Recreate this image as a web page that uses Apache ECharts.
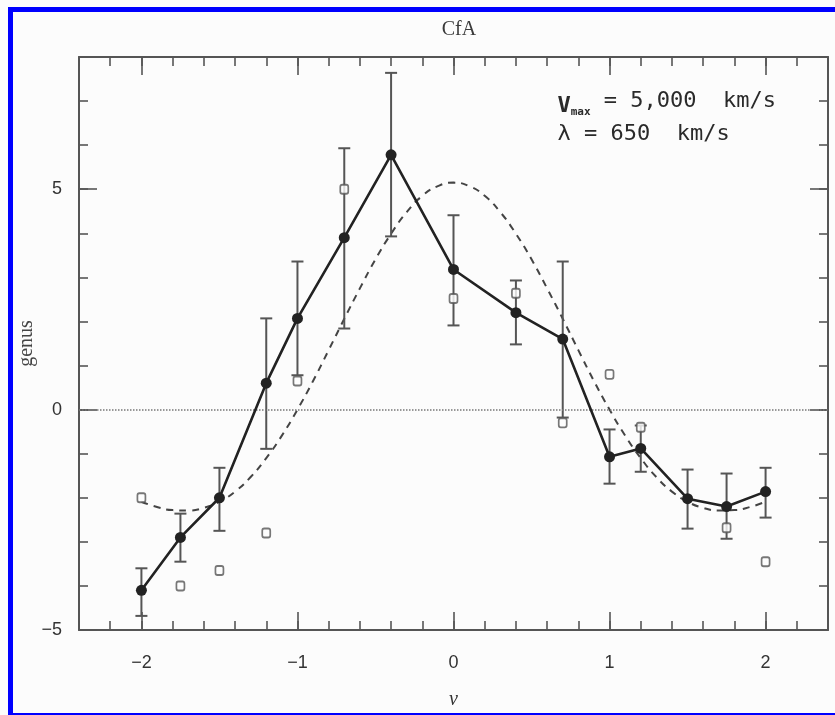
<!DOCTYPE html>
<html>
<head>
<meta charset="utf-8">
<script src="https://cdn.jsdelivr.net/npm/echarts@6/dist/echarts.min.js"></script>
<style>
    html, body { margin: 0; padding: 0; background: #fcfcfc; }
    #chart { width: 835px; height: 715px; }
</style>
</head>
<body>
<div id="chart"></div>
<script>
'use strict';

// measured genus points (filled) with their error bar ends
const nu = [-2, -1.75, -1.5, -1.2, -1, -0.7, -0.4, 0, 0.4, 0.7, 1, 1.2, 1.5, 1.75, 2];
const genus = [-4.1, -2.9, -2.0, 0.6, 2.07, 3.9, 5.78, 3.18, 2.2, 1.6, -1.07, -0.88, -2.02, -2.2, -1.86];
const genusHi = [-3.6, -2.36, -1.32, 2.07, 3.36, 5.93, 7.64, 4.41, 2.93, 3.36, -0.45, -0.36, -1.36, -1.45, -1.32];
const genusLo = [-4.68, -3.45, -2.75, -0.89, 0.78, 1.84, 3.93, 1.91, 1.48, -0.18, -1.68, -1.41, -2.7, -2.93, -2.45];

// open squares
const sqNu = [-2, -1.75, -1.5, -1.2, -1, -0.7, 0, 0.4, 0.7, 1, 1.2, 1.75, 2];
const sqGenus = [-2.0, -4.0, -3.65, -2.8, 0.65, 5.0, 2.52, 2.64, -0.3, 0.8, -0.4, -2.68, -3.45];

// dashed curve
const curveNu = [-2, -1.9, -1.8, -1.7, -1.6, -1.5, -1.4, -1.3, -1.2, -1.1, -1, -0.9, -0.8, -0.7, -0.6, -0.5, -0.4, -0.3, -0.2, -0.1,
    0, 0.1, 0.2, 0.3, 0.4, 0.5, 0.6, 0.7, 0.8, 0.9, 1, 1.1, 1.2, 1.3, 1.4, 1.5, 1.6, 1.7, 1.8, 1.9, 2];
const curveGenus = [-2.09, -2.21, -2.28, -2.29, -2.23, -2.09, -1.86, -1.53, -1.1, -0.59, 0, 0.65, 1.35, 2.06, 2.75, 3.41, 3.99, 4.48, 4.85, 5.07,
    5.15, 5.07, 4.85, 4.48, 3.99, 3.41, 2.75, 2.06, 1.35, 0.65, 0, -0.59, -1.1, -1.53, -1.86, -2.09, -2.23, -2.29, -2.28, -2.21, -2.09];

const xMajor = [-2, -1, 0, 1, 2];
const yMajor = [-5, 0, 5];

const frameColor = '#555';
const inkColor = '#222';
const labelFont = 'Liberation Sans';
const serifFont = 'Liberation Serif';
const monoFont = 'DejaVu Sans Mono';

const fmt = (v) => String(Math.round(v * 10) / 10).replace('-', '\u2212');

const xBase = { type: 'value', min: -2.4, max: 2.4, splitLine: { show: false } };
const yBase = { type: 'value', min: -5, max: 8, splitLine: { show: false } };

const tickStyle = { color: frameColor, width: 1.6 };
const frameLine = { show: true, onZero: false, lineStyle: { color: frameColor, width: 2 } };
const noLine = { show: false, onZero: false };

const xAxes = [
    Object.assign({}, xBase, {
        position: 'bottom',
        interval: 0.2,
        axisLine: frameLine,
        axisTick: { inside: true, length: 9, lineStyle: tickStyle },
        axisLabel: {
            customValues: xMajor, formatter: fmt, margin: 24,
            fontFamily: labelFont, fontSize: 18, color: '#333'
        },
        name: '\u03bd', nameLocation: 'middle', nameGap: 60, nameMoveOverlap: false,
        nameTextStyle: { fontFamily: serifFont, fontStyle: 'italic', fontSize: 20, color: '#333' }
    }),
    Object.assign({}, xBase, {
        position: 'bottom',
        axisLine: noLine,
        axisTick: { inside: true, length: 18, customValues: xMajor, lineStyle: tickStyle },
        axisLabel: { show: false }
    }),
    Object.assign({}, xBase, {
        position: 'top',
        interval: 0.2,
        axisLine: frameLine,
        axisTick: { inside: true, length: 9, lineStyle: tickStyle },
        axisLabel: { show: false }
    }),
    Object.assign({}, xBase, {
        position: 'top',
        axisLine: noLine,
        axisTick: { inside: true, length: 18, customValues: xMajor, lineStyle: tickStyle },
        axisLabel: { show: false }
    })
];

const yAxes = [
    Object.assign({}, yBase, {
        position: 'left',
        interval: 1,
        axisLine: frameLine,
        axisTick: { inside: true, length: 9, lineStyle: tickStyle },
        axisLabel: {
            customValues: yMajor, formatter: fmt, margin: 17,
            fontFamily: labelFont, fontSize: 18, color: '#333'
        },
        name: 'genus', nameLocation: 'middle', nameGap: 42, nameMoveOverlap: false,
        nameTextStyle: { fontFamily: serifFont, fontSize: 20, color: '#444' }
    }),
    Object.assign({}, yBase, {
        position: 'left',
        axisLine: noLine,
        axisTick: { inside: true, length: 18, customValues: yMajor, lineStyle: tickStyle },
        axisLabel: { show: false }
    }),
    Object.assign({}, yBase, {
        position: 'right',
        interval: 1,
        axisLine: frameLine,
        axisTick: { inside: true, length: 9, lineStyle: tickStyle },
        axisLabel: { show: false }
    }),
    Object.assign({}, yBase, {
        position: 'right',
        axisLine: noLine,
        axisTick: { inside: true, length: 18, customValues: yMajor, lineStyle: tickStyle },
        axisLabel: { show: false }
    })
];

const errorData = nu.map((x, i) => [x, genusLo[i], genusHi[i]]);

const renderErrorBar = (params, api) => {
    const x = api.value(0);
    const lo = api.coord([x, api.value(1)]);
    const hi = api.coord([x, api.value(2)]);
    const hw = 6;
    const style = { stroke: '#555', lineWidth: 2 };
    return {
        type: 'group',
        children: [
            { type: 'line', shape: { x1: lo[0], y1: lo[1], x2: hi[0], y2: hi[1] }, style },
            { type: 'line', shape: { x1: lo[0] - hw, y1: lo[1], x2: lo[0] + hw, y2: lo[1] }, style },
            { type: 'line', shape: { x1: hi[0] - hw, y1: hi[1], x2: hi[0] + hw, y2: hi[1] }, style }
        ]
    };
};

const chart = echarts.init(document.getElementById('chart'), null, { renderer: 'canvas' });

chart.setOption({
    backgroundColor: '#fcfcfc',
    animation: false,
    title: {
        text: 'CfA', left: 454, top: 15, textAlign: 'center',
        textStyle: { fontFamily: serifFont, fontSize: 20, fontWeight: 'normal', color: '#3a3a3a' }
    },
    grid: { left: 79, right: 7, top: 57, bottom: 85 },
    xAxis: xAxes,
    yAxis: yAxes,
    series: [
        {
            type: 'line',
            data: curveNu.map((x, i) => [x, curveGenus[i]]),
            showSymbol: false,
            smooth: true,
            lineStyle: { color: '#444', width: 2, type: [7, 6] },
            markLine: {
                silent: true,
                symbol: 'none',
                label: { show: false },
                lineStyle: { color: '#777', width: 1.5, type: 'dotted' },
                data: [{ yAxis: 0 }]
            },
            z: 2
        },
        {
            type: 'custom',
            renderItem: renderErrorBar,
            data: errorData,
            encode: { x: 0, y: [1, 2] },
            z: 3
        },
        {
            type: 'scatter',
            data: sqNu.map((x, i) => [x, sqGenus[i]]),
            symbol: 'roundRect',
            symbolSize: [8, 9],
            itemStyle: { color: '#fcfcfc', borderColor: '#555', borderWidth: 1.8 },
            z: 4
        },
        {
            type: 'line',
            data: nu.map((x, i) => [x, genus[i]]),
            symbol: 'circle',
            symbolSize: 11,
            lineStyle: { color: inkColor, width: 2.6 },
            itemStyle: { color: inkColor },
            z: 5
        }
    ],
    graphic: [
        {
            type: 'text',
            right: 835 - 776,
            top: 90,
            style: {
                text: '{v|V}{s|max}{t| = 5,000  km/s}\n{t|\u03bb = 650  km/s}',
                align: 'right',
                fill: '#2a2a2a',
                rich: {
                    v: { fontFamily: monoFont, fontSize: 22, fontWeight: 'bold', lineHeight: 33, verticalAlign: 'bottom' },
                    s: { fontFamily: monoFont, fontSize: 11, fontWeight: 'bold', verticalAlign: 'bottom', lineHeight: 24 },
                    t: { fontFamily: monoFont, fontSize: 22, lineHeight: 33 }
                }
            }
        },
        {
            type: 'rect',
            left: 8, top: 7,
            shape: { width: 840, height: 706 },
            style: { fill: 'none', stroke: '#0000ff', lineWidth: 5 },
            silent: true
        }
    ]
});
</script>
</body>
</html>
